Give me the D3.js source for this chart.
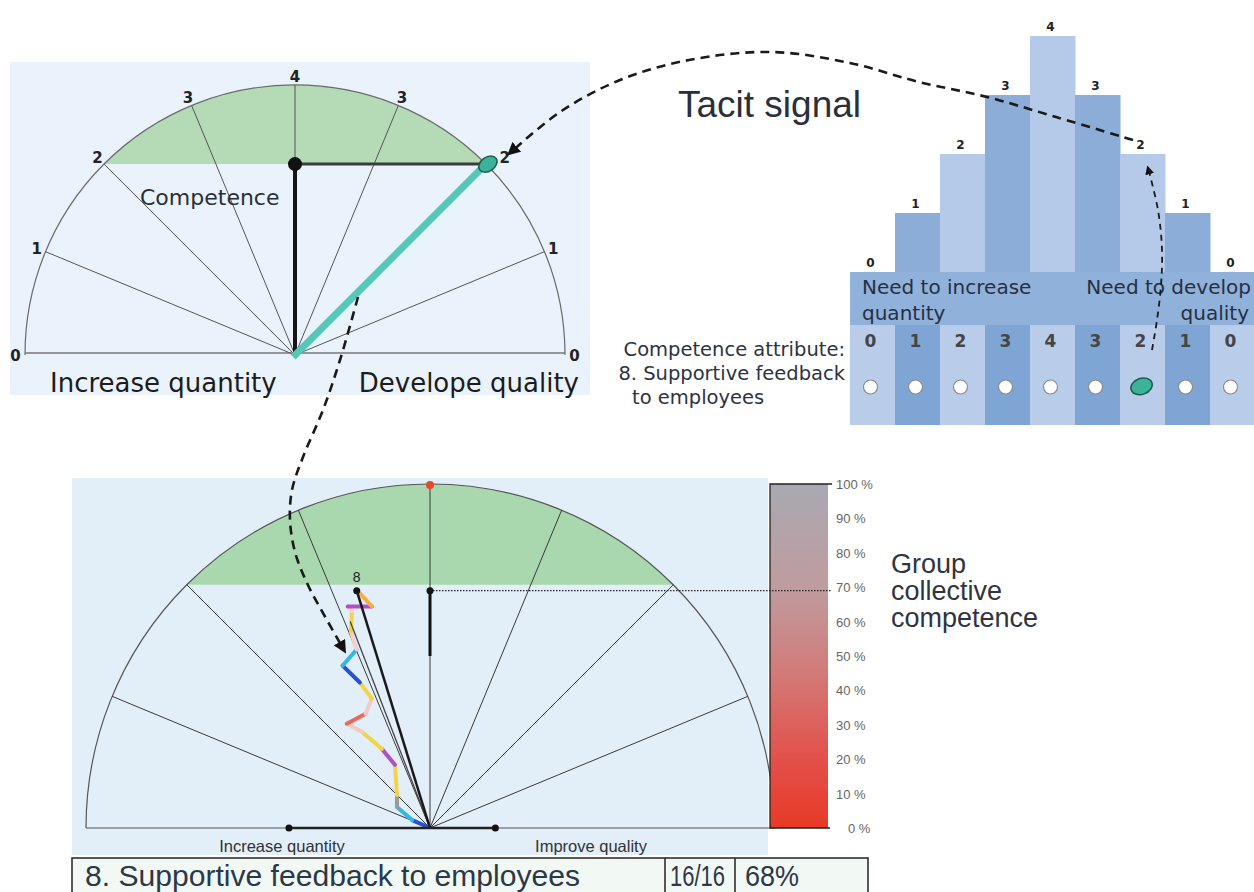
<!DOCTYPE html>
<html>
<head>
<meta charset="utf-8">
<script src="https://cdn.jsdelivr.net/npm/d3@7"></script>
<style>
  body { margin: 0; background: #fff; }
  text { font-family: "DejaVu Sans", Verdana, sans-serif; }
</style>
</head>
<body>
<div id="chart"></div>
<script>
// ---- data ----
// competence scale going round the gauge (and the bars of the tacit signal)
var levels = [0, 1, 2, 3, 4, 3, 2, 1, 0];
var selectedIndex = 6;          // chosen answer: "2" on the quality side
var targetLevel = 2;            // green zone starts at level 2
var percentTicks = [0, 10, 20, 30, 40, 50, 60, 70, 80, 90, 100];
var groupValue = 69;            // where the dotted line meets the colour bar
var attributeName = "8. Supportive feedback to employees";
var answered = "16/16";
var groupPercent = "68%";

// individual trail in the group gauge (x: -1..1 across, y: 0..1 up, radius units)
var trailX = [-0.006, -0.052, -0.096, -0.096, -0.102, -0.140, -0.198, -0.242, -0.187,
              -0.169, -0.204, -0.254, -0.213, -0.230, -0.227, -0.239, -0.169, -0.204];
var trailY = [0.003, 0.023, 0.061, 0.096, 0.184, 0.230, 0.280, 0.303, 0.332,
              0.376, 0.423, 0.472, 0.519, 0.571, 0.630, 0.644, 0.644, 0.682];
var trailColors = ["#2a4fd0", "#35b6e8", "#9a9a9a", "#f0d54a", "#b050c8", "#f0d54a",
                   "#f6c8c4", "#ec6a55", "#f6c8c4", "#f0d54a", "#2a4fd0", "#35b6e8",
                   "#f6d0cc", "#f0d54a", "#f6d0cc", "#b050c8", "#f2b040"];
var memberPoint = { x: -0.213, y: 0.690, label: "8" };
var memberShadow = { x: -0.232, y: 0.600 };
var quantityMark = -0.41;       // dot on the left of the base line
var qualityMark = 0.19;         // dot on the right of the base line
var groupDot = 0.69;            // black dot on the vertical

var svg = d3.select("#chart").append("svg")
  .attr("width", 1254)
  .attr("height", 892);

var defs = svg.append("defs");
defs.append("marker")
  .attr("id", "arrow")
  .attr("viewBox", "0 0 10 10")
  .attr("refX", 7).attr("refY", 5)
  .attr("markerWidth", 5).attr("markerHeight", 5)
  .attr("orient", "auto")
  .append("path").attr("d", "M0,0L10,5L0,10z").attr("fill", "#111");

var grad = defs.append("linearGradient")
  .attr("id", "barGrad").attr("x1", 0).attr("y1", 0).attr("x2", 0).attr("y2", 1);
grad.append("stop").attr("offset", "0%").attr("stop-color", "#a9a9b2");
grad.append("stop").attr("offset", "30%").attr("stop-color", "#bf9c9f");
grad.append("stop").attr("offset", "55%").attr("stop-color", "#d27a78");
grad.append("stop").attr("offset", "80%").attr("stop-color", "#e3504a");
grad.append("stop").attr("offset", "100%").attr("stop-color", "#e83a26");

// angle of each level index: 0 -> left (pi), 8 -> right (0)
var angle = d3.scaleLinear().domain([0, levels.length - 1]).range([Math.PI, 0]);

function gauge(cx, cy, r) {
  return {
    px: function (a, f) { return cx + r * f * Math.cos(a); },
    py: function (a, f) { return cy - r * f * Math.sin(a); }
  };
}

// ==============================
// top-left gauge (one person)
// ==============================
var t = { cx: 295, cy: 355, r: 270 };
var tg = svg.append("g");
tg.append("rect").attr("x", 10).attr("y", 62).attr("width", 580).attr("height", 333)
  .attr("fill", "#eaf3fb");
var tgm = gauge(t.cx, t.cy, t.r);

// green zone above the level-2 chord
var greenA0 = angle(levels.indexOf(targetLevel));
var greenA1 = angle(levels.lastIndexOf(targetLevel));
var gp = d3.path();
gp.moveTo(tgm.px(greenA0, 1), tgm.py(greenA0, 1));
gp.arc(t.cx, t.cy, t.r, -greenA0, -greenA1, false);
gp.closePath();
tg.append("path").attr("d", gp.toString()).attr("fill", "#b4dbb6");

var ap = d3.path();
ap.moveTo(t.cx - t.r, t.cy);
ap.arc(t.cx, t.cy, t.r, -Math.PI, 0, false);
tg.append("path").attr("d", ap.toString()).attr("fill", "none").attr("stroke", "#6a6a6a").attr("stroke-width", 1.2);
tg.append("line").attr("x1", t.cx - t.r).attr("x2", t.cx + t.r).attr("y1", t.cy - 2).attr("y2", t.cy - 2)
  .attr("stroke", "#777").attr("stroke-width", 1.5);

tg.selectAll(".ray").data(levels.slice(1, -1)).enter().append("line")
  .attr("x1", t.cx).attr("y1", t.cy)
  .attr("x2", (d, i) => tgm.px(angle(i + 1), 1))
  .attr("y2", (d, i) => tgm.py(angle(i + 1), 1))
  .attr("stroke", "#555").attr("stroke-width", 1);

tg.selectAll(".lvl").data(levels).enter().append("text")
  .attr("x", (d, i) => tgm.px(angle(i), 1.035) + (i === selectedIndex ? 12 : 0))
  .attr("y", (d, i) => tgm.py(angle(i), 1.035) + 6)
  .attr("text-anchor", "middle")
  .attr("font-size", 15).attr("font-weight", "bold").attr("fill", "#222")
  .text(d => d);

var chordY = tgm.py(greenA0, 1);
var selA = angle(selectedIndex);
tg.append("line").attr("x1", t.cx).attr("y1", chordY).attr("x2", tgm.px(selA, 0.97)).attr("y2", chordY)
  .attr("stroke", "#3c3c3c").attr("stroke-width", 3);
tg.append("line").attr("x1", t.cx).attr("y1", t.cy).attr("x2", t.cx).attr("y2", chordY)
  .attr("stroke", "#151515").attr("stroke-width", 4);
tg.append("circle").attr("cx", t.cx).attr("cy", chordY).attr("r", 7).attr("fill", "#111");
tg.append("line")
  .attr("x1", tgm.px(selA, -0.01)).attr("y1", tgm.py(selA, -0.01))
  .attr("x2", tgm.px(selA, 1)).attr("y2", tgm.py(selA, 1))
  .attr("stroke", "#55c8b8").attr("stroke-width", 7);
tg.append("ellipse").attr("cx", tgm.px(selA, 1) + 2).attr("cy", tgm.py(selA, 1))
  .attr("rx", 10).attr("ry", 7).attr("transform", `rotate(-35 ${tgm.px(selA, 1) + 2} ${tgm.py(selA, 1)})`)
  .attr("fill", "#3bb39a").attr("stroke", "#1d5c4c").attr("stroke-width", 1.5);

tg.append("text").attr("x", 140).attr("y", 205).attr("font-size", 22).attr("fill", "#2a2f38")
  .text("Competence");
tg.append("text").attr("x", 50).attr("y", 392).attr("font-size", 26).attr("fill", "#1c1c1c")
  .text("Increase quantity");
tg.append("text").attr("x", 579).attr("y", 392).attr("font-size", 26).attr("fill", "#1c1c1c")
  .attr("text-anchor", "end").text("Develope quality");

// ==============================
// top-right: tacit signal bars
// ==============================
var colX = d3.scaleBand().domain(d3.range(levels.length)).range([850, 1255]).padding(0);
var barY = d3.scaleLinear().domain([0, 4]).range([272, 36]);
var lightCol = "#b5cae8", darkCol = "#8badd8";

var bg = svg.append("g");
bg.selectAll(".col").data(levels).enter().append("rect")
  .attr("x", (d, i) => colX(i)).attr("width", colX.bandwidth() + 0.5)
  .attr("y", d => barY(d)).attr("height", d => 425 - barY(d))
  .attr("fill", (d, i) => i % 2 ? darkCol : lightCol);
bg.selectAll(".colLow").data(levels).enter().append("rect")
  .attr("x", (d, i) => colX(i)).attr("width", colX.bandwidth() + 0.5)
  .attr("y", 325).attr("height", 100)
  .attr("fill", (d, i) => i % 2 ? "#7fa5d4" : "#b9cdea");
bg.append("rect").attr("x", 850).attr("y", 272).attr("width", 405).attr("height", 53)
  .attr("fill", "#90b1da");

bg.selectAll(".val").data(levels).enter().append("text")
  .attr("x", (d, i) => colX(i) + colX.bandwidth() / 2 - 2)
  .attr("y", d => barY(d) - 5)
  .attr("text-anchor", "middle").attr("font-size", 12).attr("font-weight", "bold").attr("fill", "#222")
  .text(d => d);
bg.selectAll(".num").data(levels).enter().append("text")
  .attr("x", (d, i) => colX(i) + colX.bandwidth() / 2 - 2)
  .attr("y", 347)
  .attr("text-anchor", "middle").attr("font-size", 17).attr("font-weight", "bold").attr("fill", "#454545")
  .text(d => d);
bg.selectAll(".radio").data(levels).enter().filter((d, i) => i !== selectedIndex).append("circle")
  .attr("cx", (d, i) => colX(i < selectedIndex ? i : i + 1) + colX.bandwidth() / 2 - 2)
  .attr("cy", 387).attr("r", 7)
  .attr("fill", "#fff").attr("stroke", "#8a8a8a").attr("stroke-width", 1.2);
bg.append("ellipse").attr("cx", colX(selectedIndex) + colX.bandwidth() / 2 - 1).attr("cy", 386)
  .attr("rx", 11).attr("ry", 8).attr("transform", `rotate(-20 ${colX(selectedIndex) + colX.bandwidth() / 2} 386)`)
  .attr("fill", "#3bb39a").attr("stroke", "#1d5c4c").attr("stroke-width", 1.5);

bg.append("text").attr("x", 862).attr("y", 294).attr("font-size", 20).attr("fill", "#263042").text("Need to increase");
bg.append("text").attr("x", 862).attr("y", 320).attr("font-size", 20).attr("fill", "#263042").text("quantity");
bg.append("text").attr("x", 1251).attr("y", 294).attr("font-size", 20).attr("fill", "#263042")
  .attr("text-anchor", "end").text("Need to develop");
bg.append("text").attr("x", 1249).attr("y", 320).attr("font-size", 20).attr("fill", "#263042")
  .attr("text-anchor", "end").text("quality");

bg.append("text").attr("x", 845).attr("y", 356).attr("font-size", 19.5).attr("fill", "#2c3340")
  .attr("text-anchor", "end").text("Competence attribute:");
bg.append("text").attr("x", 845).attr("y", 380).attr("font-size", 19.5).attr("fill", "#2c3340")
  .attr("text-anchor", "end").text("8. Supportive feedback");
bg.append("text").attr("x", 632).attr("y", 404).attr("font-size", 19.5).attr("fill", "#2c3340")
  .text("to employees");

svg.append("text").attr("x", 678).attr("y", 117)
  .style("font-family", "'Liberation Sans', Arial, sans-serif")
  .attr("font-size", 37).attr("fill", "#2a2f3a").text("Tacit signal");

// ==============================
// bottom gauge (group)
// ==============================
var b = { cx: 430, cy: 828, r: 344 };
var gg = svg.append("g");
gg.append("rect").attr("x", 72).attr("y", 478).attr("width", 696).attr("height", 377)
  .attr("fill", "#e2eef8");
var bgm = gauge(b.cx, b.cy, b.r);
var bx = d3.scaleLinear().domain([-1, 1]).range([b.cx - b.r, b.cx + b.r]);
var by = d3.scaleLinear().domain([0, 1]).range([b.cy, b.cy - b.r]);

var gp2 = d3.path();
gp2.moveTo(bgm.px(greenA0, 1), bgm.py(greenA0, 1));
gp2.arc(b.cx, b.cy, b.r, -greenA0, -greenA1, false);
gp2.closePath();
gg.append("path").attr("d", gp2.toString()).attr("fill", "#a9d8ae");

var ap2 = d3.path();
ap2.moveTo(b.cx - b.r, b.cy);
ap2.arc(b.cx, b.cy, b.r, -Math.PI, 0, false);
gg.append("path").attr("d", ap2.toString()).attr("fill", "none").attr("stroke", "#555").attr("stroke-width", 1.2);
gg.append("line").attr("x1", b.cx - b.r).attr("x2", b.cx + b.r).attr("y1", b.cy).attr("y2", b.cy)
  .attr("stroke", "#555").attr("stroke-width", 1.2);

gg.selectAll(".ray").data(levels.slice(1, -1)).enter().append("line")
  .attr("x1", b.cx).attr("y1", b.cy)
  .attr("x2", (d, i) => bgm.px(angle(i + 1), 1))
  .attr("y2", (d, i) => bgm.py(angle(i + 1), 1))
  .attr("stroke", "#3a3a3a").attr("stroke-width", 1);
gg.append("circle").attr("cx", b.cx).attr("cy", b.cy - b.r + 1).attr("r", 4).attr("fill", "#e8472e");

// trail of answers
var trail = trailX.map((x, i) => ({ x: x, y: trailY[i] }));
gg.selectAll(".trail").data(trailColors).enter().append("line")
  .attr("x1", (c, i) => bx(trail[i].x)).attr("y1", (c, i) => by(trail[i].y))
  .attr("x2", (c, i) => bx(trail[i + 1].x)).attr("y2", (c, i) => by(trail[i + 1].y))
  .attr("stroke", c => c).attr("stroke-width", 4).attr("stroke-linecap", "round");

gg.append("line").attr("x1", b.cx).attr("y1", b.cy).attr("x2", bx(memberShadow.x)).attr("y2", by(memberShadow.y))
  .attr("stroke", "#444").attr("stroke-width", 1.3);
gg.append("line").attr("x1", b.cx).attr("y1", b.cy).attr("x2", bx(memberPoint.x)).attr("y2", by(memberPoint.y))
  .attr("stroke", "#1a1a1a").attr("stroke-width", 2.5);
gg.append("circle").attr("cx", bx(memberPoint.x)).attr("cy", by(memberPoint.y)).attr("r", 3.5).attr("fill", "#111");
gg.append("text").attr("x", bx(memberPoint.x)).attr("y", by(memberPoint.y) - 9)
  .attr("text-anchor", "middle").attr("font-size", 14)
  .style("font-family", "'Liberation Sans', Arial, sans-serif").attr("fill", "#222").text(memberPoint.label);

// group mean
gg.append("line").attr("x1", b.cx).attr("y1", by(groupDot)).attr("x2", b.cx).attr("y2", by(0.5))
  .attr("stroke", "#111").attr("stroke-width", 3);
gg.append("circle").attr("cx", b.cx).attr("cy", by(groupDot)).attr("r", 3.5).attr("fill", "#111");

gg.append("line").attr("x1", bx(quantityMark)).attr("x2", bx(qualityMark)).attr("y1", b.cy).attr("y2", b.cy)
  .attr("stroke", "#222").attr("stroke-width", 2.5);
gg.selectAll(".mark").data([quantityMark, qualityMark]).enter().append("circle")
  .attr("cx", d => bx(d)).attr("cy", b.cy).attr("r", 3.5).attr("fill", "#111");

gg.append("text").attr("x", 282).attr("y", 852).attr("text-anchor", "middle").attr("font-size", 16.5)
  .style("font-family", "'Liberation Sans', Arial, sans-serif").attr("fill", "#333")
  .text("Increase quantity");
gg.append("text").attr("x", 591).attr("y", 852).attr("text-anchor", "middle").attr("font-size", 16.5)
  .style("font-family", "'Liberation Sans', Arial, sans-serif").attr("fill", "#333")
  .text("Improve quality");

// colour bar
var pct = d3.scaleLinear().domain([0, 100]).range([b.cy, b.cy - b.r]);
svg.append("rect").attr("x", 770).attr("y", pct(100)).attr("width", 58).attr("height", pct(0) - pct(100))
  .attr("fill", "url(#barGrad)");
svg.append("path")
  .attr("d", `M832,${pct(100)}H770V${pct(0)}H830`)
  .attr("fill", "none").attr("stroke", "#222").attr("stroke-width", 1.3);
svg.selectAll(".pct").data(percentTicks).enter().append("text")
  .attr("x", d => d === 0 ? 848 : 836).attr("y", d => pct(d) + 5)
  .attr("font-size", 13).attr("fill", "#666")
  .style("font-family", "'Liberation Sans', Arial, sans-serif")
  .text(d => d + " %");

svg.append("line").attr("x1", b.cx).attr("x2", 832).attr("y1", pct(groupValue)).attr("y2", pct(groupValue))
  .attr("stroke", "#222").attr("stroke-width", 1.2).attr("stroke-dasharray", "1.5,1.5");

svg.selectAll(".gcc").data(["Group", "collective", "competence"]).enter().append("text")
  .attr("x", 891).attr("y", (d, i) => 573 + i * 27)
  .style("font-family", "'Liberation Sans', Arial, sans-serif")
  .attr("font-size", 27).attr("fill", "#2f3440")
  .text(d => d);

// table row
var tb = svg.append("g");
tb.append("rect").attr("x", 72).attr("y", 858).attr("width", 796).attr("height", 40)
  .attr("fill", "#f2f8f4").attr("stroke", "#222").attr("stroke-width", 1.5);
tb.selectAll(".sep").data([665, 735]).enter().append("line")
  .attr("x1", d => d).attr("x2", d => d).attr("y1", 858).attr("y2", 892)
  .attr("stroke", "#222").attr("stroke-width", 1.5);
tb.selectAll(".cell").data([[85, attributeName, 495], [670, answered, 55], [745, groupPercent, 54]])
  .enter().append("text")
  .attr("x", d => d[0]).attr("y", 886)
  .style("font-family", "'Liberation Sans Narrow', 'Liberation Sans', Arial, sans-serif")
  .attr("font-size", 29).attr("fill", "#2b3848")
  .attr("textLength", d => d[2]).attr("lengthAdjust", "spacingAndGlyphs")
  .text(d => d[1]);

// ==============================
// dashed arrows
// ==============================
var curve = d3.line().curve(d3.curveCatmullRom.alpha(0.5));
var arrows = [
  [[1133, 140], [1056, 117], [987, 97], [919, 82], [850, 63], [772, 52], [689, 60], [620, 80], [560, 112], [510, 153]],
  [[1152, 350], [1157, 320], [1161, 285], [1162, 250], [1158, 210], [1148, 168]],
  [[358, 297], [340, 360], [323, 410], [303, 457], [292, 490], [290, 520], [295, 552], [307, 583], [323, 613], [344, 650]]
];
svg.selectAll(".arr").data(arrows).enter().append("path")
  .attr("d", d => curve(d))
  .attr("fill", "none").attr("stroke", "#1a1a1a")
  .attr("stroke-width", (d, i) => i === 1 ? 1.8 : 2.6)
  .attr("stroke-dasharray", (d, i) => i === 1 ? "6,5" : "9,6")
  .attr("marker-end", "url(#arrow)");
</script>
</body>
</html>
